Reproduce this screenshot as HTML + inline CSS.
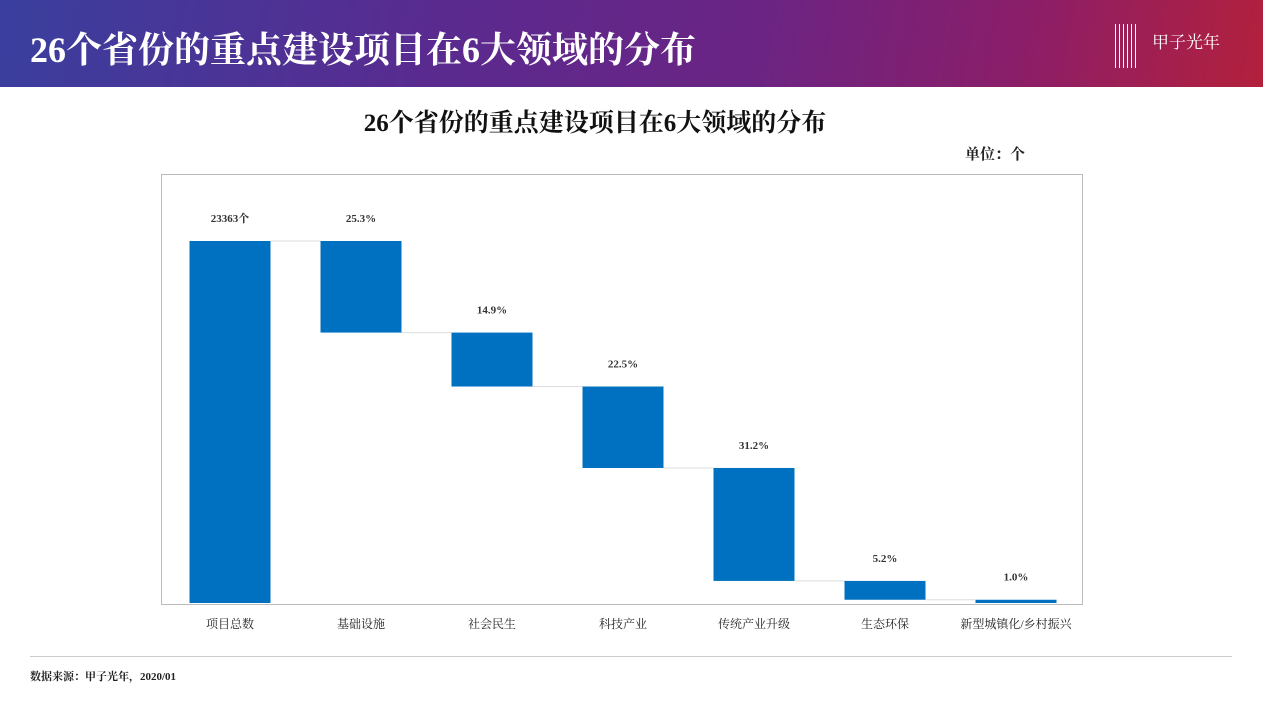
<!DOCTYPE html>
<html><head><meta charset="utf-8">
<style>
body{margin:0;width:1263px;height:718px;background:#fff;overflow:hidden;font-family:"Liberation Serif","Noto Serif CJK SC",serif;position:relative}
.hdr{position:absolute;left:0;top:0;width:1263px;height:87px;background:linear-gradient(100deg,#3a3f9e 0%,#5a2a8f 35%,#6b2483 60%,#8a1e6a 80%,#b3203c 100%)}
.hdr h1{position:absolute;left:30px;top:22px;margin:0;color:#fff;font-size:36px;font-weight:bold;letter-spacing:0px}
.logo{position:absolute;left:1152px;top:28px;color:#fff;font-size:17px}
.t{position:absolute;white-space:nowrap}
</style></head><body>
<div class="hdr">
<h1>26个省份的重点建设项目在6大领域的分布</h1>
<div class="logo">甲子光年</div>
<div style="position:absolute;left:1115px;top:24px;width:24px;height:44px;background:repeating-linear-gradient(90deg,#fff 0 1px,transparent 1px 4px)"></div>
</div>
<div class="t" style="left:0;width:1190px;text-align:center;top:103px;font-size:25px;font-weight:bold;color:#111">26个省份的重点建设项目在6大领域的分布</div>
<div class="t" style="left:965px;top:143px;font-size:15px;font-weight:bold;color:#222">单位：个</div>
<svg id="c" width="1263" height="718" style="position:absolute;left:0;top:0">
<rect x="161.5" y="174.5" width="921" height="430" fill="none" stroke="#bbb"/>
</svg>
<div style="position:absolute;left:30px;top:656px;width:1202px;height:1px;background:#ccc"></div>
<div class="t" style="left:30px;top:668px;font-size:11px;color:#222;font-weight:bold">数据来源：甲子光年，2020/01</div>
<script>
const categories=["项目总数","基础设施","社会民生","科技产业","传统产业升级","生态环保","新型城镇化/乡村振兴"];
const shares=[100,25.3,14.9,22.5,31.2,5.2,1.0];
const valueLabels=["23363个","25.3%","14.9%","22.5%","31.2%","5.2%","1.0%"];
const svg=document.getElementById('c');const NS='http://www.w3.org/2000/svg';
const baseY=603,pxPer=3.62,x0=230,step=131,bw=81;
const y=v=>baseY-v*pxPer;const xc=i=>x0+i*step;
let runTop=100;
for(let i=0;i<categories.length;i++){
 let hi,lo;
 if(i===0){hi=shares[0];lo=0;}else{hi=runTop;lo=Math.max(0,runTop-shares[i]);runTop=lo;}
 const r=document.createElementNS(NS,'rect');
 r.setAttribute('x',xc(i)-bw/2);r.setAttribute('y',y(hi));r.setAttribute('width',bw);r.setAttribute('height',Math.max(1,y(lo)-y(hi)));r.setAttribute('fill','#0070c0');
 
 
 svg.appendChild(r);
 if(i<categories.length-1){
  const l=document.createElementNS(NS,'line');const ly=i===0?y(hi):y(lo);
  l.setAttribute('x1',xc(i)+bw/2);l.setAttribute('x2',xc(i+1)-bw/2);l.setAttribute('y1',ly);l.setAttribute('y2',ly);l.setAttribute('stroke','#ddd');
  
  
  svg.appendChild(l);
 }
 const t=document.createElementNS(NS,'text');
 t.setAttribute('x',xc(i));t.setAttribute('y',y(hi)-19);t.setAttribute('text-anchor','middle');t.setAttribute('font-size','11');t.setAttribute('font-weight','bold');t.setAttribute('fill','#333');t.textContent=valueLabels[i];
 
 
 svg.appendChild(t);
 const c=document.createElementNS(NS,'text');
 c.setAttribute('x',xc(i));c.setAttribute('y',628);c.setAttribute('text-anchor','middle');c.setAttribute('font-size','12');c.setAttribute('fill','#222');c.textContent=categories[i];
 
 
 svg.appendChild(c);
}
</script>
</body></html>
